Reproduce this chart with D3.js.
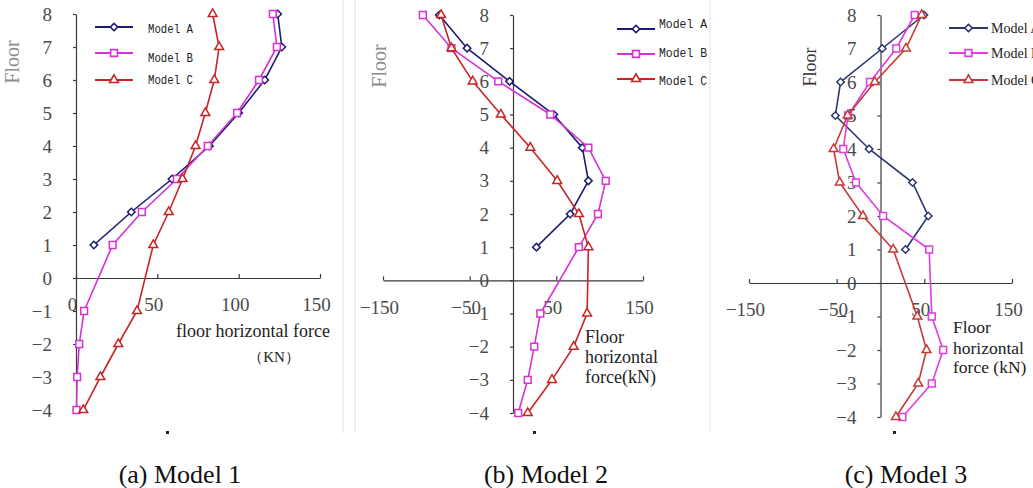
<!DOCTYPE html>
<html>
<head>
<meta charset="utf-8">
<script src="https://cdn.jsdelivr.net/npm/d3@7"></script>
<style>
    body { margin: 0; background: #fff; }
    svg { display: block; }
</style>
</head>
<body>
<svg id="chart" width="1033" height="488"></svg>
<script>
// floors, top to bottom (model A has no basement values)
const floorsAll = [8, 7, 6, 5, 4, 3, 2, 1, -1, -2, -3, -4];
const floorsUpper = [8, 7, 6, 5, 4, 3, 2, 1];
const floorTicks = [-4, -3, -2, -1, 0, 1, 2, 3, 4, 5, 6, 7, 8];

const modelNames = ["Model A", "Model B", "Model C"];
const captions = ["(a) Model 1", "(b) Model 2", "(c) Model 3"];

// floor horizontal force (kN)
const model1A = [124, 126.5, 116, 100, 82, 59, 34, 11];
const model1B = [121, 123.5, 112.5, 99, 81, 62, 40.5, 22.5, 5, 2, 0.7, 0.3];
const model1C = [84, 88, 85, 79.5, 73.5, 65.5, 57, 47.5, 37.5, 26, 15, 4.5];

const model2A = [-85, -53, -4, 47, 80, 87, 66, 27];
const model2B = [-104, -71, -17, 43, 87, 107, 98, 76, 31.5, 24.5, 17, 6];
const model2C = [-83, -71, -46.5, -14, 20, 51, 76, 87, 85.5, 70, 45, 17];

const model3A = [49.5, 2, -45.5, -51.5, -13, 36.5, 54.5, 28.5];
const model3B = [39, 18, -12, -37, -42.5, -28, 3, 55.5, 58.5, 71.5, 58.5, 25];
const model3C = [47, 29, -6.5, -37.5, -53.5, -46.5, -20, 14.5, 42, 52.5, 43, 17.5];

const ticks1 = [0, 50, 100, 150];
const ticks23 = [-150, -50, 50, 150];

const svg = d3.select("#chart");
const serif = "'Liberation Serif', 'Times New Roman', serif";
const mono = "'Liberation Mono', 'DejaVu Sans Mono', monospace";

// faint edges of the pasted images
[[343, 433], [355, 433], [710, 433]].forEach(function (e) {
    svg.append("line")
        .attr("x1", e[0]).attr("x2", e[0])
        .attr("y1", 0).attr("y2", e[1])
        .attr("stroke", "#e2e2e2")
        .attr("stroke-width", 1);
});

const panels = [
    {
        series: [model1A, model1B, model1C],
        xDomain: [0, 150], xRange: [76, 320], yRange: [410, 14], xTicks: ticks1,
        colors: ["#1c1c72", "#d630d6", "#c82424"],
        legend: { x1: 95, x2: 133, ys: [27, 53, 80], tx: 148, tys: [33, 62, 84], font: mono, size: 12, len: 45, color: "#222" },
        yTitle: { x: 14, y: 62, color: "#8c8c8c", size: 20 },
        xTitle: { x: 176, lines: [["floor horizontal force", 337]], size: 18 },
        xTitle2: { x: 274, y: 362, text: "（KN）", size: 15 },
        caption: 180, dot: 166
    },
    {
        series: [model2A, model2B, model2C],
        xDomain: [-150, 150], xRange: [383, 643], yRange: [413, 15], xTicks: ticks23,
        colors: ["#1c1c72", "#d630d6", "#c82424"],
        legend: { x1: 617, x2: 655, ys: [29, 54, 79], tx: 659, tys: [28, 57, 85], font: mono, size: 12, len: 48, color: "#222" },
        yTitle: { x: 381, y: 66, color: "#8c8c8c", size: 20 },
        xTitle: { x: 585, lines: [["Floor", 343], ["horizontal", 363], ["force(kN)", 383]], size: 18 },
        caption: 546, dot: 533
    },
    {
        series: [model3A, model3B, model3C],
        xDomain: [-150, 150], xRange: [749, 1012], yRange: [417, 15], xTicks: ticks23,
        colors: ["#2c3472", "#e03ce0", "#c8393a"],
        legend: { x1: 949, x2: 988, ys: [28, 53, 80], tx: 991, tys: [33, 58, 85], font: serif, size: 14, len: null, color: "#222" },
        yTitle: { x: 812, y: 67, color: "#333", size: 18 },
        xTitle: { x: 953, lines: [["Floor", 333], ["horizontal", 354], ["force (kN)", 373]], size: 17.5 },
        caption: 906, dot: 893
    }
];

const markerShapes = [
    d3.symbol().type(d3.symbolSquare).size(28),   // rotated -> diamond
    d3.symbol().type(d3.symbolSquare).size(46),
    d3.symbol().type(d3.symbolTriangle).size(34)
];
const markerRotate = [45, 0, 0];

panels.forEach(function (p, pi) {
    const x = d3.scaleLinear().domain(p.xDomain).range(p.xRange);
    const y = d3.scaleLinear().domain([-4, 8]).range(p.yRange);
    const g = svg.append("g");

    // axes cross at zero
    const yAxis = d3.axisLeft(y)
        .tickValues(floorTicks)
        .tickFormat(d3.format("d"))
        .tickSize(3)
        .tickSizeOuter(0)
        .tickPadding(21);
    const xAxis = d3.axisBottom(x)
        .tickValues(p.xTicks)
        .tickFormat(d3.format("d"))
        .tickSizeInner(-4)
        .tickSizeOuter(0)
        .tickPadding(20);

    const gx = g.append("g")
        .attr("transform", `translate(0, ${y(0)})`)
        .call(xAxis);
    const gy = g.append("g")
        .attr("transform", `translate(${x(0)}, 0)`)
        .call(yAxis);

    [gx, gy].forEach(function (a) {
        a.select(".domain").attr("stroke", "#3a3a3a").attr("stroke-width", 1.2);
        a.selectAll(".tick line").attr("stroke", "#3a3a3a").attr("stroke-width", 1.2);
        a.selectAll(".tick text")
            .attr("fill", "#4a4a4a")
            .style("font-family", serif)
            .style("font-size", "19px");
    });
    gx.selectAll(".tick text").attr("dx", -4);

    // series lines and markers
    p.series.forEach(function (vals, si) {
        const fl = vals.length === 8 ? floorsUpper : floorsAll;
        const pts = vals.map(function (v, i) { return { v: v, f: fl[i] }; });
        const line = d3.line()
            .x(function (d) { return x(d.v); })
            .y(function (d) { return y(d.f); });

        g.append("path")
            .datum(pts)
            .attr("d", line)
            .attr("fill", "none")
            .attr("stroke", p.colors[si])
            .attr("stroke-width", 1.6);

        g.selectAll(null)
            .data(pts)
            .join("path")
            .attr("d", markerShapes[si])
            .attr("transform", function (d) {
                return `translate(${x(d.v)}, ${y(d.f)}) rotate(${markerRotate[si]})`;
            })
            .attr("fill", "#fff")
            .attr("stroke", p.colors[si])
            .attr("stroke-width", 1.5);
    });

    // legend
    const L = p.legend;
    modelNames.forEach(function (name, si) {
        g.append("line")
            .attr("x1", L.x1).attr("x2", L.x2)
            .attr("y1", L.ys[si]).attr("y2", L.ys[si])
            .attr("stroke", p.colors[si])
            .attr("stroke-width", 1.8);
        g.append("path")
            .attr("d", markerShapes[si])
            .attr("transform", `translate(${(L.x1 + L.x2) / 2}, ${L.ys[si]}) rotate(${markerRotate[si]})`)
            .attr("fill", "#fff")
            .attr("stroke", p.colors[si])
            .attr("stroke-width", 1.6);
        const t = g.append("text")
            .attr("x", L.tx)
            .attr("y", L.tys[si])
            .attr("fill", L.color)
            .style("font-family", L.font)
            .style("font-size", L.size + "px")
            .text(name);
        if (L.len) t.attr("textLength", L.len).attr("lengthAdjust", "spacingAndGlyphs");
    });

    // axis titles
    g.append("text")
        .attr("transform", `translate(${p.yTitle.x}, ${p.yTitle.y}) rotate(-90)`)
        .attr("text-anchor", "middle")
        .attr("dominant-baseline", "middle")
        .attr("fill", p.yTitle.color)
        .style("font-family", serif)
        .style("font-size", p.yTitle.size + "px")
        .text("Floor");

    p.xTitle.lines.forEach(function (ln) {
        g.append("text")
            .attr("x", p.xTitle.x)
            .attr("y", ln[1])
            .attr("fill", "#222")
            .style("font-family", serif)
            .style("font-size", p.xTitle.size + "px")
            .text(ln[0]);
    });
    if (p.xTitle2) {
        g.append("text")
            .attr("x", p.xTitle2.x)
            .attr("y", p.xTitle2.y)
            .attr("text-anchor", "middle")
            .attr("fill", "#222")
            .style("font-family", serif)
            .style("font-size", p.xTitle2.size + "px")
            .text(p.xTitle2.text);
    }

    // small stray mark under each image, then the caption
    g.append("rect")
        .attr("x", p.dot).attr("y", 431)
        .attr("width", 3).attr("height", 3)
        .attr("fill", "#222");

    svg.append("text")
        .attr("x", p.caption)
        .attr("y", 483)
        .attr("text-anchor", "middle")
        .attr("fill", "#111")
        .style("font-family", serif)
        .style("font-size", "26px")
        .text(captions[pi]);
});
</script>
</body>
</html>
